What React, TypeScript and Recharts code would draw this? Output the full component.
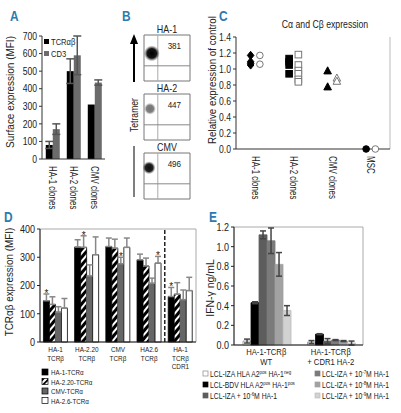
import React from 'react';
import {
  BarChart,
  Bar,
  XAxis,
  YAxis,
  ErrorBar,
  ScatterChart,
  Scatter,
  ReferenceLine,
  ReferenceArea,
  LabelList,
} from 'recharts';

const FONT = "'Liberation Sans', Arial, sans-serif";
const INK = '#222';
const LETTER = '#2b7bb0';

// ---- panel A: surface expression
const aClones = ['HA-1 clones', 'HA-2 clones', 'CMV clones'];
const aTcr = [80, 500, 310];
const aTcrErr = [20, 70, null];
const aCd3 = [170, 590, 435];
const aCd3Err = [30, 110, 15];
const aTicks = [0, 100, 200, 300, 400, 500, 600, 700];

// ---- panel B: tetramer dot plots
const bTitles = ['HA-1', 'HA-2', 'CMV'];
const bCounts = [381, 447, 496];
const bBlobX = [0.17, 0.13, 0.11];
const bBlobY = [0.6, 0.68, 0.68];
const bBlobR = [8, 6, 6.5];
const bBlobDensity = [1, 0.55, 0.95];

// ---- panel C: Calpha / Cbeta expression
const cGroups = ['HA-1 clones', 'HA-2 clones', 'CMV clones', 'MSC'];
const cFilledShape = ['diamond', 'square', 'triangle', 'circle'];
const cOpenShape = ['circle', 'square', 'triangle', 'circle'];
const cAlpha = [[1.17, 1.09, 1.07, 1.05], [1.13, 1.09, 1.05, 0.94], [0.98, 0.78], [0]];
const cBeta = [[1.17, 1.06], [1.18, 1.05, 0.98, 0.94, 0.87, 0.84], [0.89, 0.85], [0]];
const cTicks = [0, 0.2, 0.4, 0.6, 0.8, 1.0, 1.2, 1.4];

// ---- panel D: TCRab expression
const dGroups = ['HA-1\nTCRβ', 'HA-2.20\nTCRβ', 'CMV\nTCRβ', 'HA2.6\nTCRβ', 'HA-1\nTCRβ\nCDR1'];
const dSeries = ['HA-1-TCRα', 'HA-2.20-TCRα', 'CMV-TCRα', 'HA-2.6-TCRα'];
const dHa1 = [146, 336, 338, 291, 161];
const dHa1Err = [24, 26, 30, 20, 32];
const dHa220 = [133, 335, 332, 269, 169];
const dHa220Err = [27, 41, 32, 28, 41];
const dCmv = [106, 234, 277, 208, 150];
const dCmvErr = [19, 39, 23, 18, 34];
const dHa26 = [120, 309, 335, 279, 182];
const dHa26Err = [34, 63, 33, 24, 47];
const dStar = [0, 1, 2, 3, 0];
const dTicks = [0, 100, 200, 300, 400];

// ---- panel E: IFN-gamma
const eGroups = ['HA-1-TCRβ\nWT', 'HA-1-TCRβ\n+ CDR1 HA-2'];
const eLcl = ['LCL-IZA', 'LCL-BDV', 'LCL-IZA', 'LCL-IZA', 'LCL-IZA', 'LCL-IZA'];
const ePeptide = ['', '', '-6', '-7', '-8', '-9'];
const eValues = [[0.04, 0.03], [0.43, 0.11], [1.12, 0.04], [1.06, 0.05], [0.82, 0.04], [0.35, 0.02]];
const eErrors = [[0.02, 0.015], [0.01, 0.005], [0.04, 0.025], [0.13, 0.005], [0.12, 0.005], [0.05, 0.02]];
const eTicks = [0, 0.2, 0.4, 0.6, 0.8, 1.0, 1.2];

const dVals = [dHa1, dHa220, dCmv, dHa26];
const dErrs = [dHa1Err, dHa220Err, dCmvErr, dHa26Err];
const dFill = ['#000', 'url(#hatch)', '#666', '#fff'];
const dStroke = ['#000', '#000', '#666', '#000'];
const eFill = ['#fff', '#000', '#5d5d5d', '#7b7b7b', '#a2a2a2', '#d2d2d2'];
const eStroke = ['#888', '#000', '#5d5d5d', '#7b7b7b', '#a2a2a2', '#bdbdbd'];

// condensed text: the figure uses a narrow Helvetica, squeeze Liberation Sans horizontally
const CText = ({ x, y, size, anchor = 'start', rotate = 0, sq = 0.8, weight, fill = INK, children }: any) => (
  <text
    transform={`translate(${x},${y}) rotate(${rotate}) scale(${sq},1)`}
    textAnchor={anchor}
    fontSize={size}
    fontFamily={FONT}
    fontWeight={weight}
    fill={fill}
  >
    {children}
  </text>
);

const YTick = (props: any) => {
  const { x, y, payload, digits, size } = props;
  const v = digits ? Number(payload.value).toFixed(digits) : payload.value;
  return (
    <CText x={x} y={y + size * 0.36} size={size} anchor="end" sq={0.82}>
      {v}
    </CText>
  );
};

const RotatedTick = (props: any) => {
  const { x, y, payload, names } = props;
  const text = names ? names[Math.round(payload.value) - 1] : payload.value;
  return (
    <CText x={x - 3.5} y={y + 5} size={10.5} rotate={90} sq={0.76}>
      {text}
    </CText>
  );
};

const StackTick = (props: any) => {
  const { x, y, payload, size, gap, first, sq } = props;
  const lines = String(payload.value).split('\n');
  return (
    <text transform={`translate(${x},${y}) scale(${sq},1)`} textAnchor="middle" fontSize={size} fontFamily={FONT} fill={INK}>
      {lines.map((l, i) => (
        <tspan key={i} x={0} dy={i === 0 ? first : gap}>
          {l}
        </tspan>
      ))}
    </text>
  );
};

const StarMark = (p: any) => {
  if (p.value == null) return null;
  const vb = p.viewBox || {};
  const x = vb.x ?? p.x;
  const y = vb.y ?? p.y;
  const w = vb.width ?? p.width;
  const h = vb.height ?? p.height;
  const top = y - h * p.value;
  return (
    <text x={x + w / 2} y={top + 3} textAnchor="middle" fontSize={10} fontFamily={FONT} fill={INK}>
      *
    </text>
  );
};

const Marker = (p: any, filled: boolean) => {
  const { cx, cy, payload } = p;
  const s = 3.3;
  const fill = filled ? '#000' : '#fff';
  const stroke = filled ? '#000' : '#777';
  switch (payload.shape) {
    case 'diamond':
      return <polygon points={`${cx},${cy - s - 0.8} ${cx + s},${cy} ${cx},${cy + s + 0.8} ${cx - s},${cy}`} fill={fill} stroke={stroke} />;
    case 'square':
      return <rect x={cx - s} y={cy - s} width={2 * s} height={2 * s} fill={fill} stroke={stroke} />;
    case 'triangle':
      return <polygon points={`${cx},${cy - s - 0.5} ${cx + s + 0.5},${cy + s} ${cx - s - 0.5},${cy + s}`} fill={fill} stroke={stroke} />;
    default:
      return <circle cx={cx} cy={cy} r={s} fill={fill} stroke={stroke} />;
  }
};

const PanelA = () => {
  const data = aClones.map((name, i) => ({
    name,
    tcr: aTcr[i],
    tcrErr: aTcrErr[i],
    cd3: aCd3[i],
    cd3Err: aCd3Err[i],
  }));
  return (
    <BarChart width={115} height={215} data={data} margin={{ top: 36, right: 10, left: 0, bottom: 0 }} barCategoryGap="18%" barGap={0}>
      <XAxis dataKey="name" height={56} interval={0} tickLine={false} tickSize={0} axisLine={{ stroke: '#333' }} tick={<RotatedTick />} />
      <YAxis width={42} domain={[0, 700]} ticks={aTicks} interval={0} tickSize={3} tick={<YTick size={10.5} />} axisLine={{ stroke: '#333' }} tickLine={{ stroke: '#333' }} />
      <Bar dataKey="tcr" fill="#000" isAnimationActive={false}>
        <ErrorBar dataKey="tcrErr" width={4} stroke="#555" />
      </Bar>
      <Bar dataKey="cd3" fill="#6b6b6b" isAnimationActive={false}>
        <ErrorBar dataKey="cd3Err" width={4} stroke="#555" />
      </Bar>
    </BarChart>
  );
};

const B_LEFT = 143;
const B_W = 46;
const B_H = 46;
const B_TOP = 35;
const B_STEP = 59;

const BPlot = ({ i }: { i: number }) => {
  const data = [{ x: bBlobX[i], y: bBlobY[i], r: bBlobR[i], d: bBlobDensity[i] }];
  return (
    <ScatterChart width={B_W + 2} height={B_H + 2} margin={{ top: 1, right: 1, bottom: 1, left: 1 }}>
      <defs>
        <radialGradient id={`blob${i}`}>
          <stop offset="0%" stopColor="#000" stopOpacity={1} />
          <stop offset="60%" stopColor="#0a0a0a" stopOpacity={0.95} />
          <stop offset="100%" stopColor="#555" stopOpacity={0} />
        </radialGradient>
      </defs>
      <XAxis type="number" dataKey="x" domain={[0, 1]} hide />
      <YAxis type="number" dataKey="y" domain={[0, 1]} hide />
      <ReferenceArea x1={0} x2={1} y1={0} y2={1} fill="none" stroke="#777" strokeWidth={1} />
      <ReferenceLine x={0.3} stroke="#aaa" />
      <ReferenceLine y={0.33} stroke="#888" />
      <Scatter
        data={data}
        isAnimationActive={false}
        shape={(p: any) => <circle cx={p.cx} cy={p.cy} r={p.payload.r} fill={`url(#blob${i})`} opacity={p.payload.d} />}
      />
    </ScatterChart>
  );
};

const PanelC = () => {
  const alpha = cAlpha.flatMap((vals, g) => vals.map((y) => ({ x: g + 1 - 0.12, y, shape: cFilledShape[g] })));
  const beta = cBeta.flatMap((vals, g) => vals.map((y) => ({ x: g + 1 + 0.12, y, shape: cOpenShape[g] })));
  return (
    <ScatterChart width={186} height={215} margin={{ top: 37, right: 11, left: 0, bottom: 0 }}>
      <XAxis
        type="number"
        dataKey="x"
        domain={[0.5, 4.5]}
        ticks={[1, 2, 3, 4]}
        interval={0}
        height={66}
        tickLine={false}
        tickSize={0}
        axisLine={{ stroke: '#333' }}
        tick={<RotatedTick names={cGroups} />}
      />
      <YAxis
        type="number"
        dataKey="y"
        width={21}
        domain={[0, 1.4]}
        ticks={cTicks}
        interval={0}
        tickSize={3}
        tick={<YTick size={10.5} digits={1} />}
        axisLine={{ stroke: '#333' }}
        tickLine={{ stroke: '#333' }}
      />
      <ReferenceLine x={4.5} stroke="#bbb" />
      <Scatter data={alpha} isAnimationActive={false} shape={(p: any) => Marker(p, true)} />
      <Scatter data={beta} isAnimationActive={false} shape={(p: any) => Marker(p, false)} />
    </ScatterChart>
  );
};

const PanelD = () => {
  const data = dGroups.map((name, i) => {
    const row: any = { name };
    dVals.forEach((vals, k) => {
      row[`v${k}`] = vals[i];
      row[`e${k}`] = [0, dErrs[k][i]];
      row[`t${k}`] = dStar[i] === k ? dErrs[k][i] / vals[i] : null;
    });
    return row;
  });
  return (
    <BarChart width={200} height={155} data={data} margin={{ top: 9, right: 4, left: 0, bottom: 0 }} barCategoryGap="11%" barGap={0}>
      <defs>
        <pattern id="hatch" width="5" height="5" patternUnits="userSpaceOnUse" patternTransform="rotate(40)">
          <rect width="5" height="5" fill="#fff" />
          <rect width="3" height="5" fill="#000" />
        </pattern>
      </defs>
      <ReferenceArea y1={0} y2={400} fill="none" stroke="#aaa" />
      <XAxis
        dataKey="name"
        height={33}
        interval={0}
        tickLine={false}
        tickSize={0}
        axisLine={{ stroke: '#222' }}
        tick={<StackTick size={8} first={8.5} gap={8.5} sq={0.8} />}
      />
      <YAxis width={40} domain={[0, 400]} ticks={dTicks} interval={0} tickSize={3} tick={<YTick size={11} />} axisLine={{ stroke: '#222' }} tickLine={{ stroke: '#222' }} />
      {dSeries.map((s, k) => (
        <Bar key={s} dataKey={`v${k}`} name={s} fill={dFill[k]} stroke={dStroke[k]} strokeWidth={0.8} isAnimationActive={false}>
          <ErrorBar dataKey={`e${k}`} width={3} stroke="#888" />
          <LabelList dataKey={`t${k}`} content={StarMark} />
        </Bar>
      ))}
      <ReferenceLine x={dGroups[3]} position="end" stroke="#000" strokeWidth={1.3} strokeDasharray="4 2" />
    </BarChart>
  );
};

const PanelE = () => {
  const data = eGroups.map((name, i) => {
    const row: any = { name };
    eValues.forEach((vals, k) => {
      row[`v${k}`] = vals[i];
      row[`e${k}`] = eErrors[k][i];
    });
    return row;
  });
  return (
    <BarChart width={201} height={155} data={data} margin={{ top: 7, right: 38, left: 0, bottom: 0 }} barCategoryGap="14%" barGap={0}>
      <ReferenceArea y1={0} y2={1.2} fill="none" stroke="#aaa" />
      <XAxis
        dataKey="name"
        height={30}
        interval={0}
        tickLine={false}
        tickSize={0}
        axisLine={{ stroke: '#222' }}
        tick={<StackTick size={9} first={8} gap={10} sq={0.85} />}
      />
      <YAxis
        width={34}
        domain={[0, 1.2]}
        ticks={eTicks}
        interval={0}
        tickSize={3}
        tick={<YTick size={11} digits={1} />}
        axisLine={{ stroke: '#222' }}
        tickLine={{ stroke: '#222' }}
      />
      {eValues.map((_, k) => (
        <Bar key={k} dataKey={`v${k}`} fill={eFill[k]} stroke={eStroke[k]} strokeWidth={0.8} isAnimationActive={false}>
          <ErrorBar dataKey={`e${k}`} width={3} stroke="#444" />
        </Bar>
      ))}
    </BarChart>
  );
};

const Overlay = () => {
  const sup = { fontSize: 5.5, baselineShift: 'super' } as any;
  const eRows = eLcl.map((lcl, k) => {
    const col = k < 3 ? 0 : 1;
    const row = k < 3 ? k : k - 3;
    return { lcl, k, x: col === 0 ? 203 : 315, y: 377 + row * 11 };
  });
  return (
    <svg width={401} height={413} style={{ position: 'absolute', left: 0, top: 0 }}>
      <CText x={10} y={21} size={14} weight="bold" fill={LETTER} sq={0.85}>A</CText>
      <CText x={122} y={21} size={14} weight="bold" fill={LETTER} sq={0.85}>B</CText>
      <CText x={219} y={21} size={14} weight="bold" fill={LETTER} sq={0.85}>C</CText>
      <CText x={4} y={222} size={14} weight="bold" fill={LETTER} sq={0.85}>D</CText>
      <CText x={209} y={222} size={14} weight="bold" fill={LETTER} sq={0.85}>E</CText>

      {/* axis titles */}
      <CText x={14} y={92} size={10.5} rotate={-90} anchor="middle" sq={0.95}>Surface expression (MFI)</CText>
      <CText x={216} y={80} size={10.5} rotate={-90} anchor="middle" sq={0.93}>Relative expression of control</CText>
      <CText x={13} y={282} size={11} rotate={-90} anchor="middle" sq={0.9}>TCRαβ expression (MFI)</CText>
      <CText x={214} y={288} size={11} rotate={-90} anchor="middle" sq={0.95}>IFN-γ ng/mL</CText>
      <CText x={325} y={28} size={10.5} anchor="middle" sq={0.83}>Cα and Cβ expression</CText>

      {/* A legend */}
      <rect x={44} y={39} width={5} height={5} fill="#000" />
      <CText x={51} y={45} size={9.5} sq={0.8}>TCRαβ</CText>
      <rect x={44} y={51} width={5} height={5} fill="#6b6b6b" />
      <CText x={51} y={57} size={9.5} sq={0.8}>CD3</CText>

      {/* B labels */}
      {bTitles.map((title, i) => (
        <g key={title}>
          <CText x={B_LEFT + 1 + B_W / 2} y={B_TOP + i * B_STEP - 2} size={10.5} anchor="middle" sq={0.85}>{title}</CText>
          <CText x={B_LEFT + 1 + B_W * 0.66} y={B_TOP + i * B_STEP + 14} size={9.5} anchor="middle" sq={0.85}>{bCounts[i]}</CText>
        </g>
      ))}
      <line x1={134} y1={82} x2={134} y2={42} stroke="#000" strokeWidth={2} />
      <polygon points="134,34 130,44 138,44" fill="#000" />
      <CText x={138} y={115} size={10.5} rotate={-90} anchor="middle" sq={0.82}>Tetramer</CText>
      <line x1={134} y1={146} x2={134} y2={197} stroke="#000" strokeWidth={1} />

      {/* D legend */}
      {dSeries.map((s, k) => (
        <g key={s}>
          <rect x={42} y={369 + k * 9.5} width={6} height={6} fill={dFill[k] === 'url(#hatch)' ? '#fff' : dFill[k]} stroke="#000" strokeWidth={0.7} />
          {k === 1 && <polygon points={`42,${375 + k * 9.5} 48,${369 + k * 9.5} 48,${371.5 + k * 9.5} 44.5,${375 + k * 9.5}`} fill="#000" />}
          {k === 1 && <polygon points={`42,${372 + k * 9.5} 45,${369 + k * 9.5} 42,${369 + k * 9.5}`} fill="#000" />}
          <CText x={51} y={375 + k * 9.5} size={8} sq={0.78}>{s}</CText>
        </g>
      ))}

      {/* E legend */}
      {eRows.map((r) => (
        <g key={r.k}>
          <rect x={r.x} y={r.y - 6} width={5} height={5} fill={eFill[r.k]} stroke={eStroke[r.k]} strokeWidth={0.7} />
          <CText x={r.x + 7} y={r.y} size={8.5} sq={0.8}>
            {r.k === 0 && (<>{r.lcl} HLA A2<tspan {...sup}>pos</tspan> HA-1<tspan {...sup}>neg</tspan></>)}
            {r.k === 1 && (<>{r.lcl} HLA A2<tspan {...sup}>pos</tspan> HA-1<tspan {...sup}>pos</tspan></>)}
            {r.k > 1 && (<>{r.lcl} + 10<tspan {...sup}>{ePeptide[r.k]}</tspan>M HA-1</>)}
          </CText>
        </g>
      ))}
    </svg>
  );
};

export default function App() {
  return (
    <div style={{ position: 'absolute', left: 0, top: 0, width: 401, height: 413, background: '#fff', overflow: 'hidden' }}>
      <div style={{ position: 'absolute', left: 0, top: 0 }}>
        <PanelA />
      </div>
      {bTitles.map((title, i) => (
        <div key={title} style={{ position: 'absolute', left: B_LEFT, top: B_TOP + i * B_STEP - 1 }}>
          <BPlot i={i} />
        </div>
      ))}
      <div style={{ position: 'absolute', left: 215, top: 0 }}>
        <PanelC />
      </div>
      <div style={{ position: 'absolute', left: 0, top: 220 }}>
        <PanelD />
      </div>
      <div style={{ position: 'absolute', left: 200, top: 220 }}>
        <PanelE />
      </div>
      <Overlay />
    </div>
  );
}
